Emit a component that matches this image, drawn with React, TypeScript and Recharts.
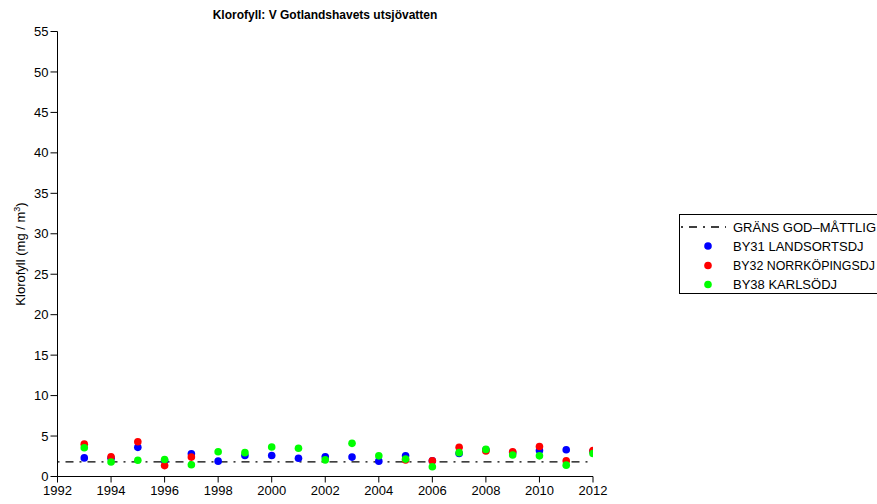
import { ComposedChart, Scatter, Line, XAxis, YAxis, Customized } from 'recharts';

const years = [1993, 1994, 1995, 1996, 1997, 1998, 1999, 2000, 2001, 2002, 2003, 2004, 2005, 2006, 2007, 2008, 2009, 2010, 2011, 2012];

const by31 = [2.3, 2.25, 3.6, 1.95, 2.8, 1.9, 2.6, 2.6, 2.25, 2.45, 2.4, 1.9, 2.55, 1.95, 2.85, 3.3, 2.95, 3.2, 3.3, 3.1];
const by32 = [4.0, 2.45, 4.3, 1.35, 2.4, null, null, null, null, null, null, null, 2.05, 1.95, 3.6, 3.15, 3.05, 3.7, 1.95, 3.2];
const by38 = [3.55, 1.8, 2.0, 2.1, 1.45, 3.05, 2.95, 3.65, 3.5, 2.05, 4.1, 2.55, 2.15, 1.2, 2.95, 3.35, 2.65, 2.55, 1.4, 2.85];

const gransYears = [1992, 2012];
const gransValue = 1.8;

const xTicks = [1992, 1994, 1996, 1998, 2000, 2002, 2004, 2006, 2008, 2010, 2012];
const yTicks = [0, 5, 10, 15, 20, 25, 30, 35, 40, 45, 50, 55];

const toPoints = (vals: (number | null)[]) =>
  years.map((year, i) => ({ year, v: vals[i] })).filter((d) => d.v !== null);

const gransData = gransYears.map((year) => ({ year, v: gransValue }));

const FONT = '"Liberation Sans", Arial, Helvetica, sans-serif';
const DASH = '2 6 8 6';

const Dot = (props: any) => {
  const { cx, cy, fill } = props;
  if (cx == null || cy == null) return null;
  return <circle cx={cx} cy={cy} r={3.8} fill={fill} />;
};

const Decorations = () => (
  <g fontFamily={FONT}>
    <text x={325} y={19} textAnchor="middle" fontSize={12} fontWeight="bold" fill="#000">
      Klorofyll: V Gotlandshavets utsjövatten
    </text>
    <text
      transform="translate(25, 254) rotate(-90)"
      textAnchor="middle"
      fontSize={13}
      fill="#000"
    >
      Klorofyll (mg / m<tspan fontSize={9} dy={-5}>3</tspan>
      <tspan dy={5}>)</tspan>
    </text>
    <rect x={679.5} y={214.5} width={220} height={79} fill="#fff" stroke="#000" strokeWidth={1} />
    <line x1={681} y1={227} x2={726} y2={227} stroke="#000" strokeWidth={1.3} strokeDasharray={DASH} />
    <text x={733} y={231.5} fontSize={13} fill="#000">GRÄNS GOD–MÅTTLIG</text>
    <circle cx={708} cy={246} r={3.8} fill="#0000ff" />
    <text x={733} y={250.5} fontSize={13} fill="#000">BY31 LANDSORTSDJ</text>
    <circle cx={708} cy={265.5} r={3.8} fill="#ff0000" />
    <text x={733} y={270} fontSize={12.4} fill="#000">BY32 NORRKÖPINGSDJ</text>
    <circle cx={708} cy={284.5} r={3.8} fill="#00ff00" />
    <text x={733} y={289} fontSize={13} fill="#000">BY38 KARLSÖDJ</text>
  </g>
);

export default function App() {
  return (
    <div style={{ position: 'absolute', left: 0, top: 0, width: 877, height: 504, background: '#fff' }}>
      <ComposedChart
        width={877}
        height={504}
        margin={{ top: 31.5, right: 284, bottom: 0, left: 0 }}
      >
        <XAxis
          type="number"
          dataKey="year"
          domain={[1992, 2012]}
          ticks={xTicks}
          allowDataOverflow
          height={27.5}
          tickSize={6}
          tickMargin={3}
          axisLine={{ stroke: '#000' }}
          tickLine={{ stroke: '#000' }}
          tick={{ fill: '#000', fontSize: 13, fontFamily: FONT }}
        />
        <YAxis
          type="number"
          domain={[0, 55]}
          ticks={yTicks}
          width={57.5}
          tickSize={7}
          tickMargin={2}
          axisLine={{ stroke: '#000' }}
          tickLine={{ stroke: '#000' }}
          tick={{ fill: '#000', fontSize: 13, fontFamily: FONT }}
        />
        <Line
          data={gransData}
          dataKey="v"
          stroke="#000"
          strokeWidth={1.3}
          strokeDasharray={DASH}
          dot={false}
          activeDot={false}
          isAnimationActive={false}
        />
        <Scatter data={toPoints(by31)} dataKey="v" fill="#0000ff" shape={Dot} isAnimationActive={false} />
        <Scatter data={toPoints(by32)} dataKey="v" fill="#ff0000" shape={Dot} isAnimationActive={false} />
        <Scatter data={toPoints(by38)} dataKey="v" fill="#00ff00" shape={Dot} isAnimationActive={false} />
        <Customized component={Decorations} />
      </ComposedChart>
    </div>
  );
}
